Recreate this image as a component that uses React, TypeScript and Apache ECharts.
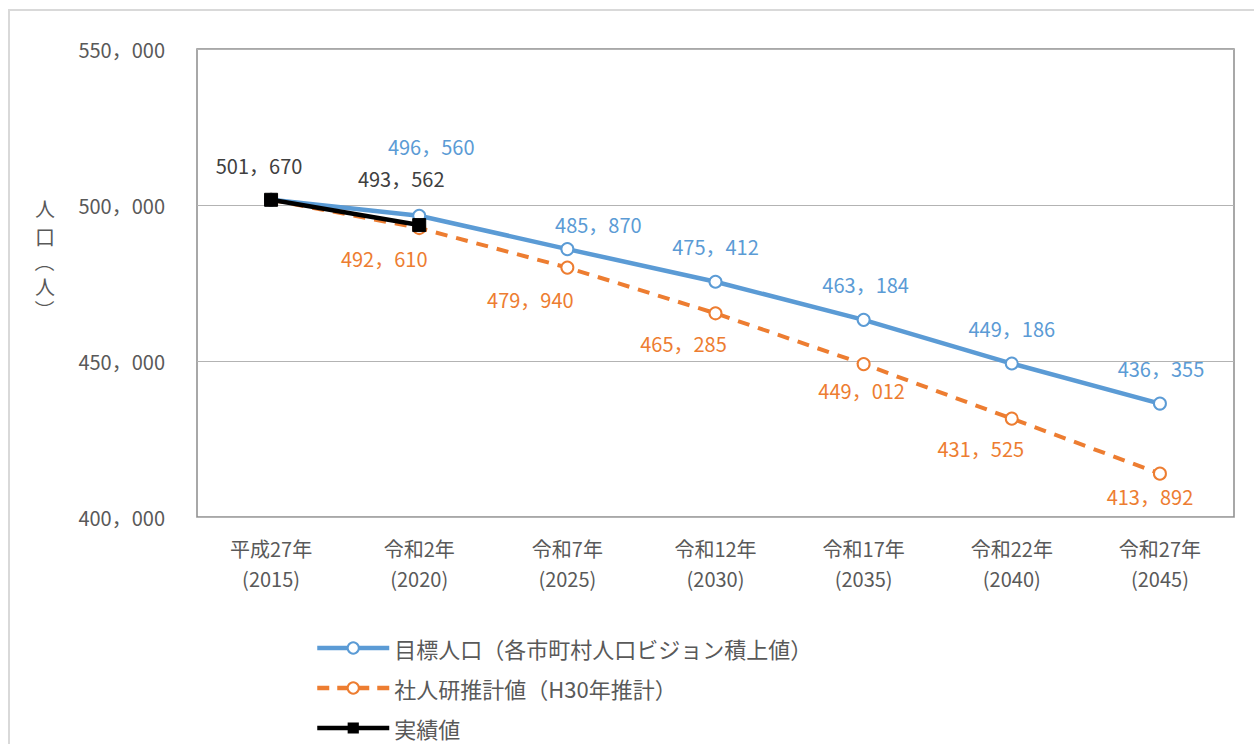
import React, { useEffect, useRef } from "react";
import * as echarts from "echarts";

const categories = [
  "平成27年\n(2015)",
  "令和2年\n(2020)",
  "令和7年\n(2025)",
  "令和12年\n(2030)",
  "令和17年\n(2035)",
  "令和22年\n(2040)",
  "令和27年\n(2045)",
];
const targetValues = [501670, 496560, 485870, 475412, 463184, 449186, 436355];
const ipssValues = [501670, 492610, 479940, 465285, 449012, 431525, 413892];
const actualValues: (number | null)[] = [501670, 493562, null, null, null, null, null];

const seriesNames = ["目標人口（各市町村人口ビジョン積上値）", "社人研推計値（H30年推計）", "実績値"];

// label offsets (style only)
const targetOffsets: ([number, number] | null)[] = [null, [12, -69], [31, -25], [0, -35], [2, -35], [0, -35], [1, -35]];
const ipssOffsets: ([number, number] | null)[] = [null, [-35, 30], [-37, 32], [-32, 30], [-2, 26], [-31, 30], [-10, 23]];
const actualOffsets: ([number, number] | null)[] = [[-12, -34], [-18, -47], null, null, null, null, null];

const FONT = "'Noto Sans CJK JP', 'Noto Sans', sans-serif";
const fmt = (v: number) => v.toLocaleString("en-US").replace(/,/g, "，");

const BLUE = "#5B9BD5";
const ORANGE = "#ED7D31";

function withLabels(values: (number | null)[], offsets: ([number, number] | null)[], color: string) {
  return values.map((v, i) => {
    const off = offsets[i];
    if (v == null) return null;
    return {
      value: v,
      label: off
        ? {
            show: true,
            position: "inside",
            offset: off,
            color,
            fontSize: 20,
            fontFamily: FONT,
            formatter: (p: any) => fmt(p.value),
          }
        : { show: false },
    };
  });
}

function legendFor(name: string, top: number, color: string, dashed: boolean) {
  return {
    orient: "horizontal",
    left: 310,
    top,
    itemWidth: 72,
    itemHeight: 14,
    data: [name],
    lineStyle: { width: 4.5, color, type: dashed ? [12, 8] : "solid" },
    textStyle: { color: "#595959", fontSize: 22, fontFamily: FONT },
  };
}

const yNameChars = [
  { t: "人", y: 208, r: 0 },
  { t: "口", y: 236, r: 0 },
  { t: "（", y: 262, r: -Math.PI / 2 },
  { t: "人", y: 286, r: 0 },
  { t: "）", y: 310, r: -Math.PI / 2 },
];

export default function App() {
  const ref = useRef<HTMLDivElement>(null);
  useEffect(() => {
    document.body.style.margin = "0";
    const chart = echarts.init(ref.current!, null, { renderer: "svg" });
    chart.setOption({
      animation: false,
      backgroundColor: "#ffffff",
      textStyle: { fontFamily: FONT },
      graphic: [
        {
          type: "rect",
          shape: { x: 9, y: 10, width: 1300, height: 800 },
          style: { fill: "none", stroke: "#d9d9d9", lineWidth: 2 },
          silent: true,
          z: -1,
        },
        ...yNameChars.map((c) => ({
          type: "text",
          x: 45,
          y: c.y,
          rotation: c.r,
          style: {
            text: c.t,
            fontSize: 20,
            lineHeight: 20,
            fill: "#595959",
            fontFamily: FONT,
            align: "center",
            verticalAlign: "middle",
          },
        })),
      ],
      grid: {
        left: 197,
        top: 49,
        right: 20,
        bottom: 227,
        show: true,
        borderColor: "#8c8c8c",
        borderWidth: 1.5,
      },
      legend: [
        legendFor(seriesNames[0], 632, BLUE, false),
        legendFor(seriesNames[1], 672, ORANGE, true),
        legendFor(seriesNames[2], 712, "#000000", false),
      ],
      xAxis: {
        type: "category",
        data: categories,
        boundaryGap: true,
        axisLine: { show: false },
        axisTick: { show: false },
        axisLabel: {
          color: "#595959",
          fontSize: 20,
          lineHeight: 30,
          margin: 16,
          fontFamily: FONT,
          interval: 0,
        },
      },
      yAxis: {
        type: "value",
        min: 400000,
        max: 550000,
        interval: 50000,
        axisLine: { show: false },
        axisTick: { show: false },
        splitLine: { lineStyle: { color: "#b3b3b3", width: 1 } },
        axisLabel: {
          color: "#595959",
          fontSize: 20,
          margin: 32,
          fontFamily: FONT,
          formatter: (v: number) => fmt(v),
        },
      },
      series: [
        {
          name: seriesNames[1],
          type: "line",
          data: withLabels(ipssValues, ipssOffsets, ORANGE),
          symbol: "circle",
          symbolSize: 12,
          itemStyle: { color: "#ffffff", borderColor: ORANGE, borderWidth: 2 },
          lineStyle: { color: ORANGE, width: 4, type: [12, 9] },
          z: 2,
        },
        {
          name: seriesNames[0],
          type: "line",
          data: withLabels(targetValues, targetOffsets, BLUE),
          symbol: "circle",
          symbolSize: 12,
          itemStyle: { color: "#ffffff", borderColor: BLUE, borderWidth: 2 },
          lineStyle: { color: BLUE, width: 4.5 },
          z: 3,
        },
        {
          name: seriesNames[2],
          type: "line",
          data: withLabels(actualValues, actualOffsets, "#404040"),
          symbol: "rect",
          symbolSize: 13,
          itemStyle: { color: "#000000", borderColor: "#000000" },
          lineStyle: { color: "#000000", width: 4.5 },
          z: 4,
        },
      ],
    });
    return () => chart.dispose();
  }, []);
  return <div ref={ref} style={{ width: 1254, height: 744 }} />;
}
